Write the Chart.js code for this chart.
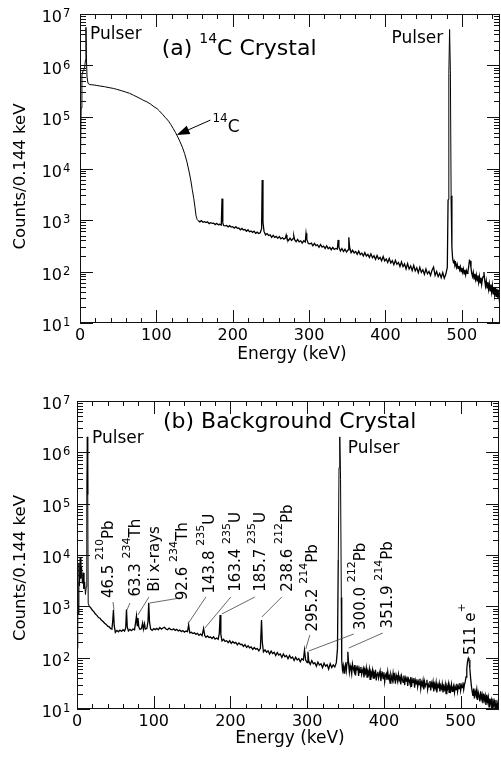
<!DOCTYPE html>
<html><head><meta charset="utf-8">
<script src="https://cdn.jsdelivr.net/npm/chart.js@4.4.0/dist/chart.umd.min.js"></script>
<style>
html,body{margin:0;padding:0;background:#fff;}
#wrap{position:relative;width:501px;height:761px;overflow:hidden;background:#fff;}
canvas{position:absolute;left:0;}
#ca{top:0px}
#cb{top:380px}
</style></head><body>
<div id="wrap"><canvas id="ca" width="501" height="380"></canvas><canvas id="cb" width="501" height="381"></canvas></div>
<script>
// ---------- DATA ----------
// Panel (a): 14C crystal spectrum, energy (keV) and counts per 0.144 keV
const energyA = [
0.5,1.5,2.5,4,6,7.2,7.8,8.4,9.2,10.5,
13,17,22,26,32,38,44,48,54,60,65,70,76,82,88,92,97,101,104,108,112,116,119,122,125,128,131,134,137,140,143,145,147,149,150.5,152,153.5,
155,157,159,161,163,165,167,169,171,173,
175,177,179,181,183,185,186,187,188,190,
192,194,196,198,200,202,204,206,208,210,
212,214,216,218,220,222,224,226,228,230,
232,234,236,237.8,238.6,239.6,241,243,245,247,
249,251,253,255,257,259,261,263,265,267,
269,270,271,273,275,277,279,280,281,283,
285,287,289,291,293,295,296,297,299,301,
303,305,307,309,311,313,315,317,319,321,
323,325,327,329,331,333,335,337,338,339,
341,343,345,347,349,351,352,353,355,357,
359,361,363,365,367,369,371,373,375,377,
379,381,383,385,387,389,391,393,395,397,
399,401,403,405,407,409,411,413,415,417,
419,421,423,425,427,429,431,433,435,437,
439,441,443,445,447,449,451,453,455,457,
459,461,463,465,467,469,471,473,475,477,
479,481,482,483,484,485,486,487,488,489,
490,491,492,493,494,495,496,497,498,499,
500,501,502,503,504,505,506,507,508,509,
510,511,512,513,514,515,516,517,518,519,
520,521,522,523,524,525,526,527,528,529,
530,531,532,533,534,535,536,537,538,539,
540,541,542,543,544,545,546,547,548,549,
550];
const countsA = [
9000,150000,650000,780000,880000,1300000,5500000,1400000,600000,450000,
425000,420000,410000,400000,388000,372000,358000,345000,325000,305000,288000,265000,240000,215000,195000,180000,158000,145000,131000,113000,97000,83000,71000,60000,50000,41000,33000,26000,19500,13500,8500,6000,3900,2600,1800,1200,1020,
960,920,975,905,930,895,920,850,885,860,
870,815,860,810,825,800,2600,880,780,770,
785,735,775,730,740,695,740,690,700,645,
685,640,655,605,645,590,610,575,605,550,
580,545,565,680,6000,900,600,515,545,500,
515,460,505,460,480,440,475,430,455,425,
445,510,440,400,445,400,435,490,415,380,
420,378,395,355,395,375,550,420,350,345,
355,315,350,318,330,295,335,298,312,280,
315,278,295,265,295,268,280,272,410,300,
250,280,245,270,238,262,460,300,232,258,
230,245,215,248,212,228,200,232,200,215,
188,220,185,202,172,205,175,188,162,196,
160,175,150,180,146,162,136,165,138,150,
125,154,124,140,112,142,112,128,104,132,
103,118,95,121,96,108,88,112,90,100,
84,106,122,84,100,80,92,76,95,74,
88,120,2500,700000,5000000,800000,3000,300,175,150,
160,132,145,120,138,115,128,108,124,100,
118,96,112,90,108,86,104,92,100,125,
165,160,118,92,80,96,72,90,70,86,
66,84,62,80,60,76,56,72,80,98,
66,52,66,48,62,45,58,42,56,40,
54,37,50,35,48,33,46,31,44,30,
40];

// Panel (b): background crystal spectrum
const energyB = [
0.3,1,1.7,2.5,3.3,4.2,5,6,7,8,
9,10,11,12,12.8,13.4,14,14.6,
16,18,20,22,24,26,28,30,32,34,
36,38,40,42,44,45.5,46.5,47.5,48.5,50,
52,54,56,58,60,62,63.5,64.5,65.5,67,
69,71,73,75,76.5,77.5,78.5,79.5,80.5,82,
84,85.5,86.5,88,89,91,92.5,93.5,94.5,
96,98,100,102,104,106,108,110,112,114,
116,118,120,122,124,126,128,130,132,134,
136,138,140,142,144,145.5,147,149,151,153,
155,157,159,161,163,165,166.5,168,170,172,
174,176,178,180,182,184,185.5,186.5,187.5,189,
191,193,195,197,199,201,203,205,207,209,
211,213,215,217,219,221,223,225,227,229,
231,233,235,237,239,240.5,241.5,243,245,247,
249,251,253,255,257,259,261,263,265,267,
269,271,273,275,277,279,281,283,285,287,
289,291,293,295,296.5,298,300,301,302,304,
306,308,310,312,314,316,318,320,322,324,
326,328,330,332,334,336,338,
339.5,340.5,341.5,342.5,343.5,344.5,
345,346,347,348,349,350,351,352,353,354,
355,356,357,358,359,360,361,362,363,364,
365,366,367,368,369,370,371,372,373,374,
375,376,377,378,379,380,381,382,383,384,
385,386,387,388,389,390,391,392,393,394,
395,396,397,398,399,400,401,402,403,404,
405,406,407,408,409,410,411,412,413,414,
415,416,417,418,419,420,421,422,423,424,
425,426,427,428,429,430,431,432,433,434,
435,436,437,438,439,440,441,442,443,444,
445,446,447,448,449,450,451,452,453,454,
455,456,457,458,459,460,461,462,463,464,
465,466,467,468,469,470,471,472,473,474,
475,476,477,478,479,480,481,482,483,484,
485,486,487,488,489,490,491,492,493,494,
495,496,497,498,499,500,501,502,503,504,
505,506,507,508,509,510,511,512,513,514,
515,516,517,518,519,520,521,522,523,524,
525,526,527,528,529,530,531,532,533,534,
535,536,537,538,539,540,541,542,543,544,
545,546,547,548,549,550];
const countsB = [
150,3000,700,7000,2500,9000,3500,6000,2800,4500,
2200,3000,1700,2400,250000,2000000,150000,1150,
1000,935,840,790,705,668,605,585,535,505,
468,445,410,398,368,360,500,850,420,310,
340,320,345,325,350,330,380,870,400,330,
355,335,360,350,500,650,420,590,400,355,
370,470,360,460,360,370,500,1170,500,
360,340,368,352,372,350,385,360,378,392,
362,350,376,356,348,366,340,356,332,345,
322,338,315,330,322,435,305,312,296,305,
285,298,272,288,268,370,270,250,265,248,
252,236,255,230,242,228,300,680,280,212,
228,208,214,196,215,190,206,192,198,178,
194,180,182,165,180,158,170,155,162,145,
158,146,150,136,152,540,200,130,142,128,
136,118,134,120,127,110,126,112,118,101,
118,104,110,95,110,97,103,88,102,90,
96,83,95,90,140,90,80,130,86,74,
88,76,80,68,82,72,76,64,78,68,
73,60,76,64,72,66,80,
150,8000,500000,2000000,300000,1500,
90,58,70,50,66,74,56,80,130,76,
52,70,60,48,75,62,55,72,45,64,
58,70,44,60,52,66,47,55,62,41,
58,50,63,42,54,48,60,38,52,46,
57,40,50,44,58,36,48,53,40,47,
55,35,46,50,39,52,34,45,49,37,
53,40,44,32,48,42,36,50,38,44,
31,46,40,34,47,37,42,30,44,38,
33,45,29,40,35,43,28,39,36,31,
42,27,37,33,40,26,36,31,38,27,
34,30,39,25,33,29,36,24,34,28,
31,37,24,30,27,35,23,32,28,34,
22,30,26,33,21,29,27,32,22,28,
25,31,21,27,24,30,20,28,25,31,
21,27,23,30,22,26,29,21,27,24,
31,22,28,25,32,23,29,26,33,24,
30,34,42,60,85,98,90,62,40,28,
22,18,25,16,22,19,24,15,21,18,
14,22,16,19,13,20,15,18,12,19,
14,17,11,16,13,15,10,16,12,14,
10,15,9,12,8,11];

const xTickLabels = [0,100,200,300,400,500];
const yDecades = [1,2,3,4,5,6,7];

// Peak label texts of panel (b) ([text, isSuperscript])
const peakLabelTexts = [
 [['46.5 ',0],['210',1],['Pb',0]],
 [['63.3 ',0],['234',1],['Th',0]],
 [['Bi x-rays',0]],
 [['92.6 ',0],['234',1],['Th',0]],
 [['143.8 ',0],['235',1],['U',0]],
 [['163.4 ',0],['235',1],['U',0]],
 [['185.7 ',0],['235',1],['U',0]],
 [['238.6 ',0],['212',1],['Pb',0]],
 [['295.2 ',0],['214',1],['Pb',0]],
 [['300.0 ',0],['212',1],['Pb',0]],
 [['351.9 ',0],['214',1],['Pb',0]],
 [['511 e',0],['+',1]]
];
// label anchors in data space: energy (keV), log10(counts)
const peakLabelAnchors = [[40.4,3.16],[75.5,3.19],[100.3,3.285],[136.3,3.12],[171,3.25],[205.7,3.285],[238.3,3.285],[273,3.285],[305.6,2.51],[368.5,2.54],[403.3,2.57],[511.7,2.05]];
const leaderLines = [
 [46.9,3.084,48.2,2.928],[69.0,3.065,65.1,2.928],[93.75,3.182,79.4,2.831],[134.1,3.162,95.05,3.065],
 [168,3.182,144.5,2.656],[200.5,3.182,166.7,2.578],[231.8,3.182,188.8,2.851],[266.9,3.182,240.9,2.792],
 [303.4,2.441,298.2,2.169],[360.7,2.461,302.1,2.130],[398.4,2.480,354.2,2.188],[511.7,1.993,511.7,1.857]
];

// ---------- drawing helpers ----------
const FAM = '"DejaVu Sans", sans-serif';
Chart.defaults.font.family = FAM;

function drawParts(ctx, x, y, parts, size, supSize, rise) {
  let cx = x;
  for (const [t, sup] of parts) {
    ctx.font = (sup ? supSize : size) + 'px ' + FAM;
    ctx.fillText(t, cx, sup ? y - rise : y);
    cx += ctx.measureText(t).width;
  }
}

const framePlugin = {
  id: 'frame',
  afterDraw(chart) {
    const {ctx, chartArea: a, scales: {x, y}} = chart;
    const cfg = chart.options.plugins.frame;
    ctx.save();
    ctx.strokeStyle = '#111'; ctx.lineWidth = 1;
    ctx.strokeRect(a.left + 0.5, a.top + 0.5, a.right - a.left - 1, a.bottom - a.top - 1);
    ctx.beginPath();
    for (let v = 0; v <= 550; v += 20) {
      const px = Math.round(x.getPixelForValue(v)) + 0.5;
      const len = v % 100 === 0 ? 13 : 5;
      ctx.moveTo(px, a.bottom); ctx.lineTo(px, a.bottom - len);
      ctx.moveTo(px, a.top); ctx.lineTo(px, a.top + len);
    }
    for (let d = 1; d <= 7; d++) {
      for (let m = 1; m <= 9; m++) {
        if (d === 7 && m > 1) break;
        const py = Math.round(y.getPixelForValue(m * Math.pow(10, d))) + 0.5;
        const len = m === 1 ? 13 : 6;
        ctx.moveTo(a.left, py); ctx.lineTo(a.left + len, py);
        ctx.moveTo(a.right, py); ctx.lineTo(a.right - len, py);
      }
    }
    ctx.stroke();
    // y tick labels 10^n
    ctx.fillStyle = '#000';
    ctx.textBaseline = 'alphabetic';
    for (const d of yDecades) {
      const py = y.getPixelForValue(Math.pow(10, d));
      ctx.font = '16px ' + FAM; ctx.textAlign = 'right';
      ctx.fillText('10', 62, py + 8);
      ctx.font = '11.5px ' + FAM; ctx.textAlign = 'left';
      ctx.fillText(String(d), 63, py + 3);
    }
    // axis titles
    ctx.font = '17px ' + FAM; ctx.textAlign = 'center';
    ctx.fillText('Energy (keV)', (a.left + a.right) / 2 + 2, a.bottom + cfg.xTitleDy);
    ctx.save();
    ctx.translate(21, (a.top + a.bottom) / 2 + cfg.yTitleDy);
    ctx.rotate(-Math.PI / 2);
    ctx.font = '16.5px ' + FAM; ctx.textBaseline = 'middle';
    ctx.fillText('Counts/0.144 keV', 0, 0);
    ctx.restore();
    ctx.restore();
  }
};

function textAt(chart, e, lg, parts, size, supSize, rise) {
  const {ctx, scales: {x, y}} = chart;
  ctx.save();
  ctx.fillStyle = '#000'; ctx.textAlign = 'left'; ctx.textBaseline = 'alphabetic';
  drawParts(ctx, x.getPixelForValue(e), y.getPixelForValue(Math.pow(10, lg)), parts, size, supSize, rise);
  ctx.restore();
}

const decoA = {
  id: 'decoA',
  afterDraw(chart) {
    const {ctx, scales: {x, y}} = chart;
    textAt(chart, 13, 6.515, [['Pulser', 0]], 17, 12, 6);
    textAt(chart, 408, 6.437, [['Pulser', 0]], 17, 12, 6);
    textAt(chart, 106.9, 6.204, [['(a) ', 0], ['14', 1], ['C Crystal', 0]], 22, 14, 12);
    textAt(chart, 173.4, 4.71, [['14', 1], ['C', 0]], 17, 12, 10);
    // arrow to the 14C curve
    const x1 = x.getPixelForValue(170.8), y1 = y.getPixelForValue(Math.pow(10, 4.94));
    const x2 = x.getPixelForValue(126.5), y2 = y.getPixelForValue(Math.pow(10, 4.65));
    const ang = Math.atan2(y2 - y1, x2 - x1);
    ctx.save();
    ctx.strokeStyle = '#000'; ctx.fillStyle = '#000'; ctx.lineWidth = 1;
    ctx.beginPath(); ctx.moveTo(x1, y1); ctx.lineTo(x2 - 8 * Math.cos(ang), y2 - 8 * Math.sin(ang)); ctx.stroke();
    ctx.beginPath();
    ctx.moveTo(x2, y2);
    ctx.lineTo(x2 - 13 * Math.cos(ang) + 4.5 * Math.sin(ang), y2 - 13 * Math.sin(ang) - 4.5 * Math.cos(ang));
    ctx.lineTo(x2 - 13 * Math.cos(ang) - 4.5 * Math.sin(ang), y2 - 13 * Math.sin(ang) + 4.5 * Math.cos(ang));
    ctx.closePath(); ctx.fill();
    ctx.restore();
  }
};

const decoB = {
  id: 'decoB',
  afterDraw(chart) {
    const {ctx, scales: {x, y}} = chart;
    textAt(chart, 19.5, 6.182, [['Pulser', 0]], 17, 12, 6);
    textAt(chart, 352.9, 5.987, [['Pulser', 0]], 17, 12, 6);
    textAt(chart, 112, 6.474, [['(b) Background Crystal', 0]], 22, 14, 12);
    ctx.save();
    ctx.strokeStyle = '#444'; ctx.lineWidth = 0.8;
    ctx.beginPath();
    for (const [e1, l1, e2, l2] of leaderLines) {
      ctx.moveTo(x.getPixelForValue(e1), y.getPixelForValue(Math.pow(10, l1)));
      ctx.lineTo(x.getPixelForValue(e2), y.getPixelForValue(Math.pow(10, l2)));
    }
    ctx.stroke();
    ctx.fillStyle = '#000'; ctx.textAlign = 'left'; ctx.textBaseline = 'alphabetic';
    peakLabelTexts.forEach((parts, i) => {
      const [e, lg] = peakLabelAnchors[i];
      ctx.save();
      ctx.translate(x.getPixelForValue(e), y.getPixelForValue(Math.pow(10, lg)));
      ctx.rotate(-Math.PI / 2);
      drawParts(ctx, 0, 5.5, parts, 15, 11, 10);
      ctx.restore();
    });
    ctx.restore();
  }
};

function makeChart(id, energies, counts, geom, deco) {
  const pts = energies.map((e, i) => ({x: e, y: counts[i]}));
  return new Chart(document.getElementById(id), {
    type: 'line',
    data: {datasets: [{data: pts, borderColor: '#000', borderWidth: 1, pointRadius: 0, tension: 0, fill: false,
      segment: {borderWidth: c => (c.p0.parsed.x >= geom.noisyFrom && Math.max(c.p0.parsed.y, c.p1.parsed.y) < 1e4 ? 1.3 : 1)}}]},
    options: {
      responsive: false, animation: false, devicePixelRatio: 1,
      layout: {padding: {top: geom.top, right: geom.right, left: 0, bottom: 0}},
      plugins: {legend: {display: false}, tooltip: {enabled: false}, frame: {xTitleDy: geom.xTitleDy, yTitleDy: geom.yTitleDy}},
      scales: {
        x: {
          type: 'linear', min: 0, max: 550,
          grid: {display: false, drawTicks: false}, border: {display: false},
          ticks: {stepSize: 100, includeBounds: false, autoSkip: false, maxRotation: 0, padding: 3, color: '#000',
                  font: {family: FAM, size: 16},
                  callback: v => (xTickLabels.includes(v) ? String(v) : '')},
          afterFit: s => { s.height = geom.xh; }
        },
        y: {
          type: 'logarithmic', min: 10, max: 1e7,
          grid: {display: false, drawTicks: false}, border: {display: false},
          ticks: {display: false},
          afterFit: s => { s.width = geom.left; }
        }
      }
    },
    plugins: [framePlugin, deco]
  });
}

makeChart('ca', energyA, countsA, {left: 80, right: 1, top: 14, xh: 57, xTitleDy: 36, yTitleDy: 8, noisyFrom: 154}, decoA);
makeChart('cb', energyB, countsB, {left: 77, right: 2, top: 21, xh: 52, xTitleDy: 34, yTitleDy: 13, noisyFrom: 15}, decoB);
</script>
</body></html>
